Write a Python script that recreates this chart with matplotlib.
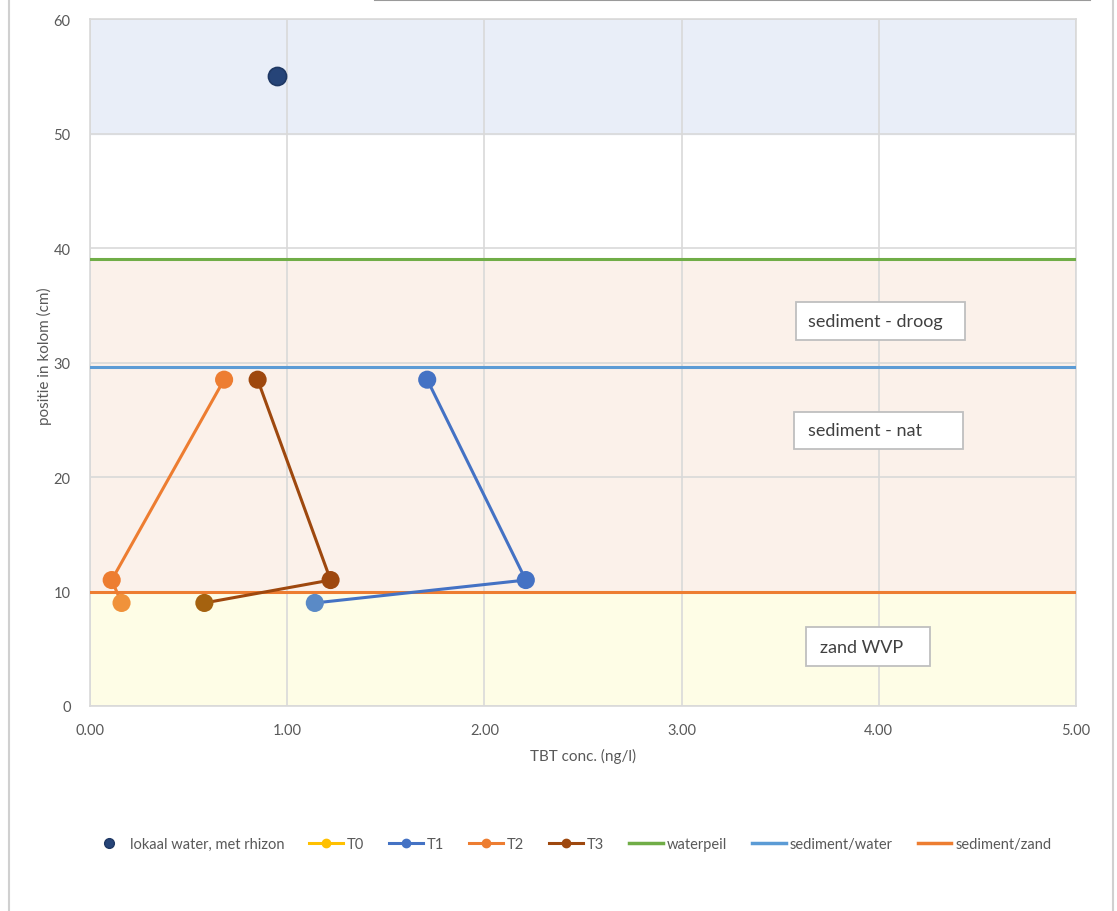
import matplotlib
matplotlib.use("Agg")
import matplotlib.pyplot as plt
from matplotlib.lines import Line2D
from matplotlib.patches import Rectangle

plt.rcParams['font.family'] = ['Lato', 'DejaVu Sans']

# Measured concentrations (ng/l) versus position in the column (cm)
rhizon_x = [0.95]
rhizon_y = [55]

depth = [28.5, 11, 9]
t1_conc = [1.71, 2.21, 1.14]
t2_conc = [0.68, 0.11, 0.16]
t3_conc = [0.85, 1.22, 0.58]

# Reference levels (cm)
waterpeil = 39
sediment_water = 29.6
sediment_zand = 10
water_top = 60
water_bottom = 50

zone_labels = ["sediment - droog", "sediment - nat", "zand WVP"]

x_ticks = [0, 1, 2, 3, 4, 5]
y_ticks = [0, 10, 20, 30, 40, 50, 60]

fig = plt.figure(figsize=(11.17, 9.12), dpi=100)
ax = fig.add_axes([90 / 1117, 1 - 707 / 912, 986 / 1117, 687 / 912])

# background zones
ax.axhspan(water_bottom, water_top, color="#e9eef8", zorder=0)
ax.axhspan(sediment_zand, waterpeil, color="#fbf1ea", zorder=0)
ax.axhspan(0, sediment_zand, color="#fefde6", zorder=0)

ax.set_xlim(0, 5)
ax.set_ylim(0, 60)
ax.set_xticks(x_ticks)
ax.set_xticklabels([f"{v:.2f}" for v in x_ticks])
ax.set_yticks(y_ticks)
ax.grid(True, color="#d9d9d9", linewidth=1.2, zorder=1)
ax.set_axisbelow(True)
for s in ax.spines.values():
    s.set_color("#d9d9d9")
    s.set_linewidth(1.2)
ax.tick_params(length=0, colors="#595959", labelsize=10.5, pad=12)
ax.tick_params(axis="y", pad=14)

# horizontal reference lines
ax.axhline(waterpeil, color="#70ad47", linewidth=2.2, zorder=3)
ax.axhline(sediment_water, color="#5b9bd5", linewidth=2.2, zorder=3)
ax.axhline(sediment_zand, color="#ed7d31", linewidth=2.2, zorder=3)

# series
series = [
    (t1_conc, "#4472c4", ["#4472c4", "#4472c4", "#5a8ac6"]),
    (t2_conc, "#ed7d31", ["#ed7d31", "#ed7d31", "#f0923a"]),
    (t3_conc, "#9e480e", ["#9e480e", "#9e480e", "#a5620f"]),
]
for xs, lc, mcs in series:
    ax.plot(xs, depth, color=lc, linewidth=2.2, zorder=4)
    ax.scatter(xs, depth, s=170, c=mcs, zorder=5, linewidths=0)

ax.scatter(rhizon_x, rhizon_y, s=170, c="#264478", edgecolors="#1f3864",
           linewidths=1.2, zorder=5)

# zone label boxes: (left, bottom, width, height) in data units, text x
boxes = [
    ((3.58, 31.97), 0.857, 3.31, 3.64),
    ((3.57, 22.45), 0.857, 3.23, 3.64),
    ((3.63, 3.49), 0.629, 3.41, 3.70),
]
for txt, (xy, w, h, tx) in zip(zone_labels, boxes):
    ax.add_patch(Rectangle(xy, w, h, facecolor="white", edgecolor="#bfbfbf",
                           linewidth=1.3, zorder=6))
    ax.text(tx, xy[1] + h / 2, txt, ha="left", va="center", fontsize=13,
            color="#404040", zorder=7)

ax.set_xlabel("TBT conc. (ng/l)", color="#595959", fontsize=11, labelpad=8)
ax.set_ylabel("positie in kolom (cm)", color="#595959", fontsize=11, labelpad=0)
ax.yaxis.set_label_coords(-38 / 986, 0.51)

handles = [
    Line2D([], [], linestyle="none", marker="o", markersize=7,
           markerfacecolor="#264478", markeredgecolor="#1f3864"),
    Line2D([], [], color="#ffc000", linewidth=2.2, marker="o", markersize=6),
    Line2D([], [], color="#4472c4", linewidth=2.2, marker="o", markersize=6),
    Line2D([], [], color="#ed7d31", linewidth=2.2, marker="o", markersize=6),
    Line2D([], [], color="#9e480e", linewidth=2.2, marker="o", markersize=6),
    Line2D([], [], color="#70ad47", linewidth=2.5),
    Line2D([], [], color="#5b9bd5", linewidth=2.5),
    Line2D([], [], color="#ed7d31", linewidth=2.5),
]
labels = ["lokaal water, met rhizon", "T0", "T1", "T2", "T3", "waterpeil",
          "sediment/water", "sediment/zand"]
fig.legend(handles, labels, loc="center", bbox_to_anchor=(0.512, 1 - 845 / 912),
           ncol=8, frameon=False, fontsize=10.5, handlelength=2.3,
           handletextpad=0.3, columnspacing=1.7, labelcolor="#595959")

# outer chart frame
fig.add_artist(Line2D([9 / 1117, 9 / 1117], [0, 1], color="#d0d0d0", linewidth=1.5))
fig.add_artist(Line2D([1113 / 1117, 1113 / 1117], [0, 1], color="#d0d0d0", linewidth=1.5))
fig.add_artist(Line2D([375 / 1117, 1090 / 1117], [1 - 1 / 912, 1 - 1 / 912],
                      color="#9a9a9a", linewidth=1.5))

fig.savefig("out.png", dpi=100, facecolor="white")
